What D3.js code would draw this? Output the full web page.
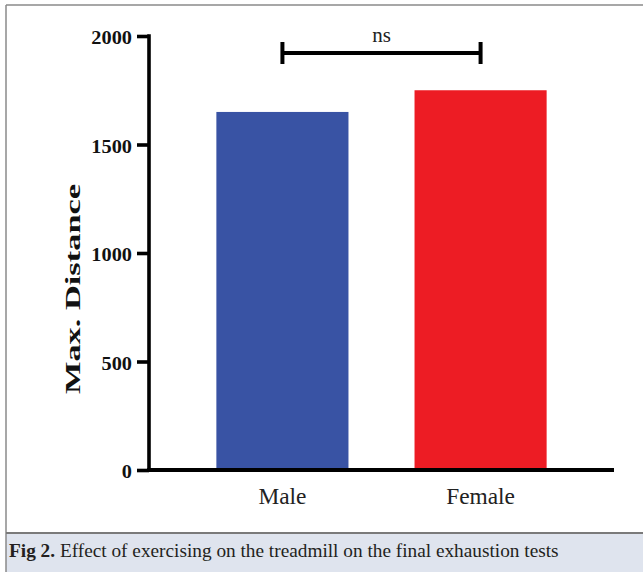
<!DOCTYPE html>
<html>
<head>
<meta charset="utf-8">
<script src="https://cdn.jsdelivr.net/npm/d3@7"></script>
<style>
  html, body { margin: 0; padding: 0; background: #fff; }
  svg { display: block; }
</style>
</head>
<body>
<svg id="fig" width="643" height="572"></svg>
<script>
// Data
const groups = ["Male", "Female"];
const maxDistance = [1650, 1750];
const yTicks = [0, 500, 1000, 1500, 2000];
const barColors = ["#3953a4", "#ed1c24"];
const sigLabel = "ns";
const yTitle = "Max. Distance";
const captionBold = "Fig 2.";
const captionText = " Effect of exercising on the treadmill on the final exhaustion tests";

const svg = d3.select("#fig");
const serif = "Liberation Serif, Times New Roman, serif";

// Figure frame and caption panel
svg.append("rect").attr("x", 0).attr("y", 0).attr("width", 643).attr("height", 572).attr("fill", "#fff");
svg.append("rect").attr("x", 6).attr("y", 533).attr("width", 643).attr("height", 39).attr("fill", "#dfe4ee");
svg.append("line").attr("x1", 6).attr("x2", 643).attr("y1", 5).attr("y2", 5)
  .attr("stroke", "#8a8a8a").attr("stroke-width", 1.5);
svg.append("line").attr("x1", 6).attr("x2", 6).attr("y1", 5).attr("y2", 572)
  .attr("stroke", "#8a8a8a").attr("stroke-width", 1.5);
svg.append("line").attr("x1", 6).attr("x2", 643).attr("y1", 533).attr("y2", 533)
  .attr("stroke", "#7a7a7a").attr("stroke-width", 2);

const cap = svg.append("text").attr("x", 9).attr("y", 557)
  .attr("font-family", serif).attr("font-size", 19.3).attr("fill", "#231f20");
cap.append("tspan").attr("font-weight", "bold").text(captionBold);
cap.append("tspan").text(captionText);

// Plot area
const plotLeft = 149, plotRight = 614, plotTop = 36, plotBottom = 470;

const x = d3.scaleBand().domain(groups).range([plotLeft, plotRight])
  .paddingInner(1 / 3).paddingOuter(0.34);
const y = d3.scaleLinear().domain([0, 2000]).range([plotBottom, plotTop]);

// Bars
svg.append("g").selectAll("rect").data(groups).join("rect")
  .attr("x", d => x(d))
  .attr("width", x.bandwidth())
  .attr("y", (d, i) => y(maxDistance[i]))
  .attr("height", (d, i) => y(0) - y(maxDistance[i]))
  .attr("fill", (d, i) => barColors[i]);

// Y axis
const yAxis = svg.append("g").attr("transform", `translate(${plotLeft},0)`)
  .call(d3.axisLeft(y).tickValues(yTicks).tickFormat(d3.format("d")).tickSize(12).tickSizeOuter(0).tickPadding(0));
yAxis.select(".domain").attr("stroke", "#000").attr("stroke-width", 3.6)
  .attr("d", `M0,${y(2000) - 1.8}V${y(0)}`);
yAxis.selectAll(".tick line").attr("stroke", "#000").attr("stroke-width", 3.6);
// labels sit 17px left of the axis, slightly widened like the original typesetting
yAxis.selectAll(".tick text")
  .attr("x", 0)
  .attr("font-family", serif).attr("font-size", 18).attr("font-weight", "bold")
  .attr("fill", "#111").attr("dy", "0.36em")
  .attr("transform", "translate(-17,1.5) scale(1.13,1)");

// X axis
const xAxis = svg.append("g").attr("transform", `translate(0,${plotBottom})`)
  .call(d3.axisBottom(x).tickSize(0).tickPadding(18));
xAxis.select(".domain").attr("stroke", "#000").attr("stroke-width", 4)
  .attr("d", `M${plotLeft - 1.8},0H${plotRight}`);
xAxis.selectAll(".tick text")
  .attr("font-family", serif).attr("font-size", 22.5).attr("fill", "#222")
  .attr("dy", "0.71em")
  .attr("transform", "scale(1.04,1)")
  .attr("x", function () { return 0; });
xAxis.selectAll(".tick").each(function () {
  const t = d3.select(this);
  const m = /translate\(([^,]+),/.exec(t.attr("transform"));
  const cx = +m[1];
  t.attr("transform", `translate(${cx},0)`);
});

// Y-axis title, drawn elongated along its run
svg.append("text")
  .attr("transform", `translate(80,${(plotTop + plotBottom) / 2 + 36}) rotate(-90) scale(1.72,1)`)
  .attr("text-anchor", "middle")
  .attr("font-family", serif).attr("font-size", 20).attr("font-weight", "bold")
  .attr("fill", "#111")
  .text(yTitle);

// Significance bracket between the two bars
const xa = x("Male") + x.bandwidth() / 2;
const xb = x("Female") + x.bandwidth() / 2;
const yb = 53;
const br = svg.append("g").attr("stroke", "#000").attr("stroke-width", 4);
br.append("line").attr("x1", xa).attr("x2", xb).attr("y1", yb).attr("y2", yb);
br.append("line").attr("x1", xa).attr("x2", xa).attr("y1", yb - 11).attr("y2", yb + 11);
br.append("line").attr("x1", xb).attr("x2", xb).attr("y1", yb - 11).attr("y2", yb + 11);
svg.append("text").attr("x", (xa + xb) / 2).attr("y", 42)
  .attr("text-anchor", "middle")
  .attr("font-family", serif).attr("font-size", 21).attr("fill", "#222")
  .text(sigLabel);
</script>
</body>
</html>
